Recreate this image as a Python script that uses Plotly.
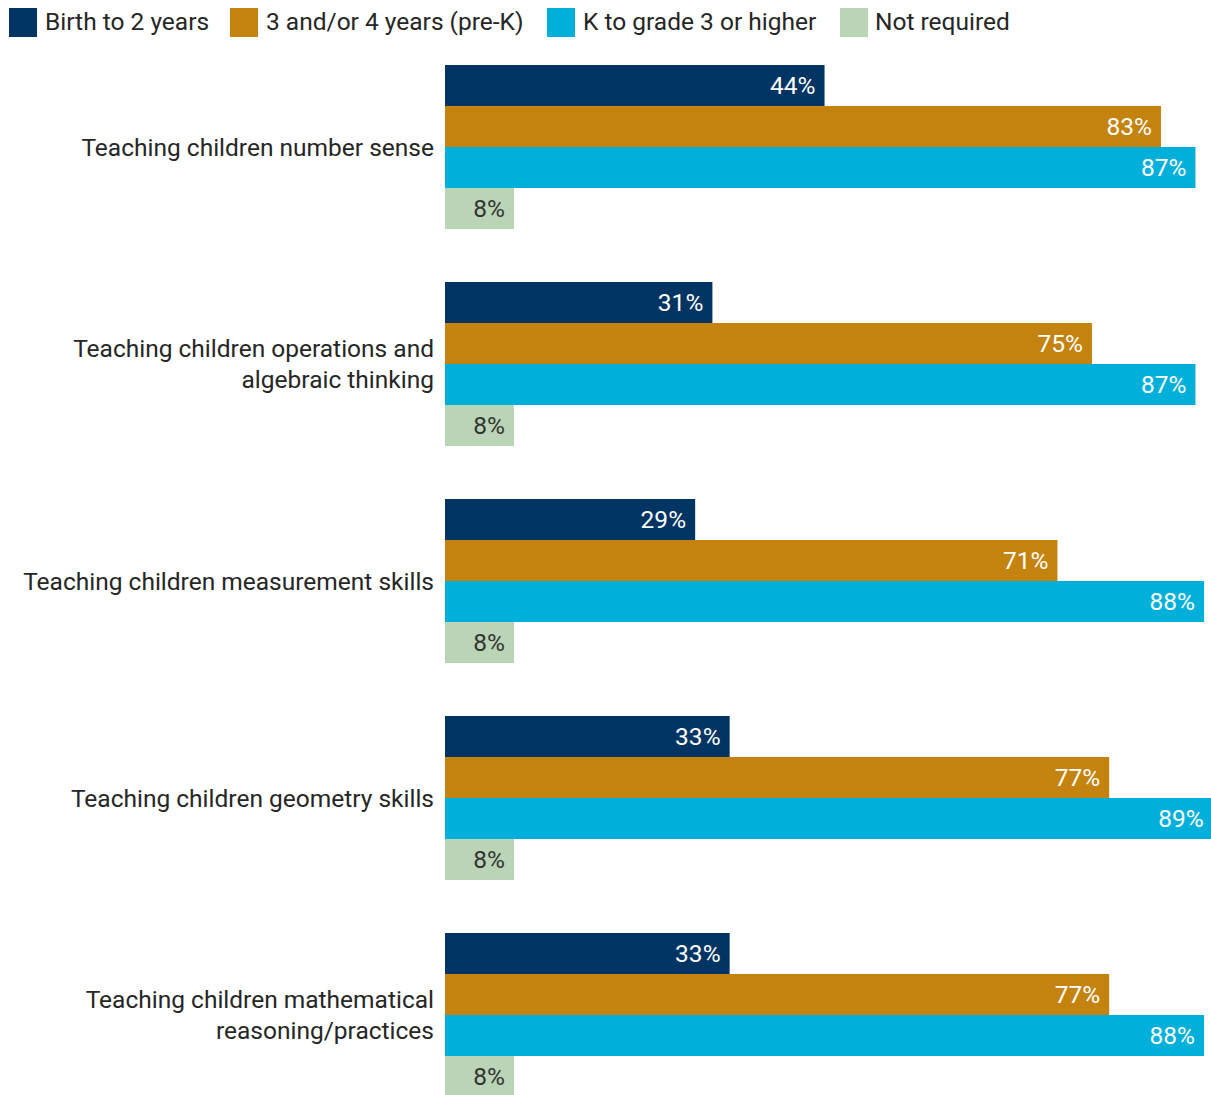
import plotly.graph_objects as go

# Survey categories (top to bottom)
categories = [
    "Teaching children number sense",
    "Teaching children operations and<br>algebraic thinking",
    "Teaching children measurement skills",
    "Teaching children geometry skills",
    "Teaching children mathematical<br>reasoning/practices",
]

series_names = [
    "Birth to 2 years",
    "3 and/or 4 years (pre-K)",
    "K to grade 3 or higher",
    "Not required",
]

birth_to_2 = [44, 31, 29, 33, 33]
pre_k = [83, 75, 71, 77, 77]
k_to_grade3 = [87, 87, 88, 89, 88]
not_required = [8, 8, 8, 8, 8]

series_values = [birth_to_2, pre_k, k_to_grade3, not_required]
colors = ["#003462", "#C4830F", "#00B0DA", "#B9D5B6"]
text_colors = ["#FFFFFF", "#FFFFFF", "#FFFFFF", "#333333"]

W, H = 1211, 1095
M_L, M_R, M_T, M_B = 445, 0, 38, 0
PLOT_W = W - M_L - M_R
PLOT_H = H - M_T - M_B
FONT = "Roboto, Arial, sans-serif"
FS = 24.5

fig = go.Figure()
for name, vals, col, tcol in zip(series_names, series_values, colors, text_colors):
    fig.add_trace(go.Bar(
        y=categories,
        x=vals,
        name=name,
        orientation="h",
        marker=dict(color=col, line=dict(width=0)),
        texttemplate="%{x}%\u00a0",
        textposition="inside",
        insidetextanchor="end",
        textfont=dict(family=FONT, size=FS, color=tcol),
        showlegend=False,
        hoverinfo="skip",
    ))


def px_x(p):
    return (p - M_L) / PLOT_W


def px_y(p):
    return (H - M_B - p) / PLOT_H


# Legend row drawn along the top edge
legend_items = [(9, 43), (230, 264), (547, 581), (840, 873)]
for (sq_x, tx), name, col in zip(legend_items, series_names, colors):
    fig.add_shape(
        type="rect", xref="paper", yref="paper",
        x0=px_x(sq_x), x1=px_x(sq_x + 28), y0=px_y(37), y1=px_y(8),
        fillcolor=col, line=dict(width=0),
    )
    fig.add_annotation(
        xref="paper", yref="paper", x=px_x(tx), y=px_y(22),
        text=name, showarrow=False, xanchor="left", yanchor="middle",
        font=dict(family=FONT, size=FS, color="#262626"),
    )

fig.update_layout(
    width=W, height=H,
    margin=dict(l=M_L, r=M_R, t=M_T, b=M_B),
    barmode="group",
    bargap=0.244,
    bargroupgap=0,
    plot_bgcolor="white",
    paper_bgcolor="white",
    uniformtext=dict(minsize=FS, mode="show"),
    font=dict(family=FONT, size=FS, color="#262626"),
)
fig.update_xaxes(
    range=[0, 88.8], visible=False, showgrid=False, zeroline=False,
)
fig.update_yaxes(
    type="category",
    categoryorder="array", categoryarray=categories,
    range=[4.369, -0.502],
    showgrid=False, zeroline=False, showline=False,
    ticks="", ticklabelstandoff=10,
    tickfont=dict(family=FONT, size=FS, color="#262626"),
)

fig.write_html("out.html")
